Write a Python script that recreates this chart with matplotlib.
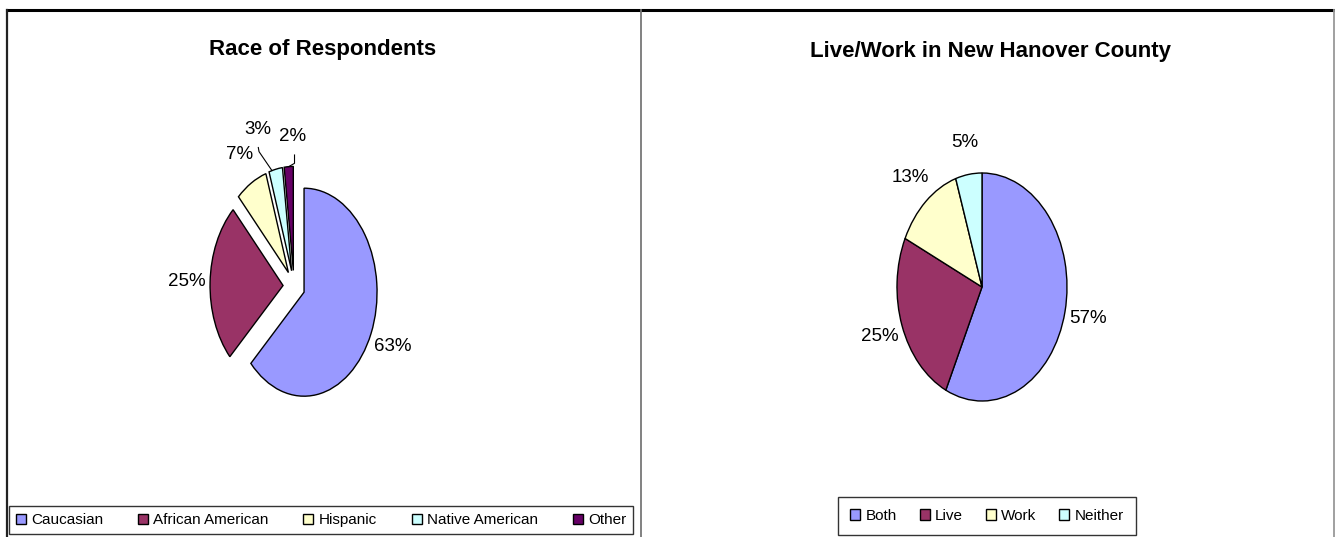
import numpy as np
import matplotlib.pyplot as plt
from matplotlib.lines import Line2D

plt.rcParams['font.family'] = ['Liberation Sans', 'DejaVu Sans']

# data
race_labels = ['Caucasian', 'African American', 'Hispanic', 'Native American', 'Other']
race_pct = [63, 25, 7, 3, 2]
race_colors = ['#9999FF', '#993366', '#FFFFCC', '#CCFFFF', '#660066']

live_labels = ['Both', 'Live', 'Work', 'Neither']
live_pct = [57, 25, 13, 5]
live_colors = ['#9999FF', '#993366', '#FFFFCC', '#CCFFFF']

W, H = 1335, 537
fig = plt.figure(figsize=(W / 100, H / 100), dpi=100)
fig.patch.set_facecolor('white')


def pie_axes(cx, cy, rx, ry, lim=2.0):
    # axes placed in pixels so that the unit circle becomes an rx x ry ellipse
    ax = fig.add_axes([(cx - lim * rx) / W, (H - cy - lim * ry) / H,
                       2 * lim * rx / W, 2 * lim * ry / H])
    return ax


def finish(ax, lim=2.0):
    ax.set_xlim(-lim, lim)
    ax.set_ylim(-lim, lim)
    ax.set_aspect('auto')
    ax.axis('off')


# panel borders
fig.add_artist(Line2D([7 / W, 1 - 1 / W], [1 - 9.5 / H] * 2, color='black', lw=2.2))
fig.add_artist(Line2D([7 / W] * 2, [0, 1 - 9.5 / H], color='#222222', lw=1.6))
fig.add_artist(Line2D([640.5 / W] * 2, [0, 1 - 9.5 / H], color='#777777', lw=1.3))
fig.add_artist(Line2D([1334 / W] * 2, [0, 1 - 9.5 / H], color='#999999', lw=1.3))

# ---- left: race
ax1 = pie_axes(294, 286, 73, 104)
wedges1, _, pcts1 = ax1.pie(race_pct, colors=race_colors, startangle=90, counterclock=False,
                            explode=[0.15] * len(race_pct), autopct='%1.0f%%', pctdistance=1.32,
                            wedgeprops=dict(edgecolor='black', linewidth=1.0),
                            textprops=dict(fontsize=13.5, color='black'))
finish(ax1)

# move the two small labels out and add leader lines
for i, (dist, rot, arc_rot) in {3: (1.43, 6, 3), 4: (1.29, -3, 0)}.items():
    w = wedges1[i]
    mid = np.deg2rad((w.theta1 + w.theta2) / 2)
    x0, y0 = w.center
    lx = x0 + dist * np.cos(mid + np.deg2rad(rot))
    ly = y0 + dist * np.sin(mid + np.deg2rad(rot))
    pcts1[i].set_position((lx, ly))
    ax_ = x0 + np.cos(mid + np.deg2rad(arc_rot))
    ay_ = y0 + np.sin(mid + np.deg2rad(arc_rot))
    if i == 3:
        xs = [lx, lx + 0.01, ax_]
        ys = [ly - 0.17, ly - 0.21, ay_]
    else:
        xs = [lx + 0.03, lx + 0.03, ax_]
        ys = [ly - 0.18, ly - 0.26, ay_]
    ax1.plot(xs, ys, color='black', lw=0.8)

fig.text(323 / W, 1 - 49 / H, 'Race of Respondents', ha='center', va='center',
         fontsize=16, fontweight='bold')

leg1 = fig.legend(wedges1, race_labels, loc='lower left',
                  bbox_to_anchor=(9 / W, 3 / H, 624 / W, 30 / H), mode='expand',
                  ncol=5, fontsize=11, frameon=True, fancybox=False, borderaxespad=0,
                  handlelength=0.65, handleheight=0.65, handletextpad=0.35, columnspacing=1.2,
                  borderpad=0.45)
leg1.get_frame().set_edgecolor('black')
leg1.get_frame().set_linewidth(1.0)

# ---- right: live/work
ax2 = pie_axes(982, 287, 85, 114)
wedges2, _, pcts2 = ax2.pie(live_pct, colors=live_colors, startangle=90, counterclock=False,
                            autopct='%1.0f%%', pctdistance=1.28,
                            wedgeprops=dict(edgecolor='black', linewidth=1.0),
                            textprops=dict(fontsize=13.5, color='black'))
finish(ax2)

fig.text(990 / W, 1 - 52 / H, 'Live/Work in New Hanover County', ha='center', va='center',
         fontsize=16, fontweight='bold')

leg2 = fig.legend(wedges2, live_labels, loc='lower left', bbox_to_anchor=(838 / W, 2 / H),
                  ncol=4, fontsize=11, frameon=True, fancybox=False, borderaxespad=0,
                  handlelength=0.65, handleheight=0.65, handletextpad=0.35, columnspacing=1.5,
                  borderpad=0.8)
leg2.get_frame().set_edgecolor('black')
leg2.get_frame().set_linewidth(1.0)

fig.savefig('out.png', dpi=100, facecolor='white')
